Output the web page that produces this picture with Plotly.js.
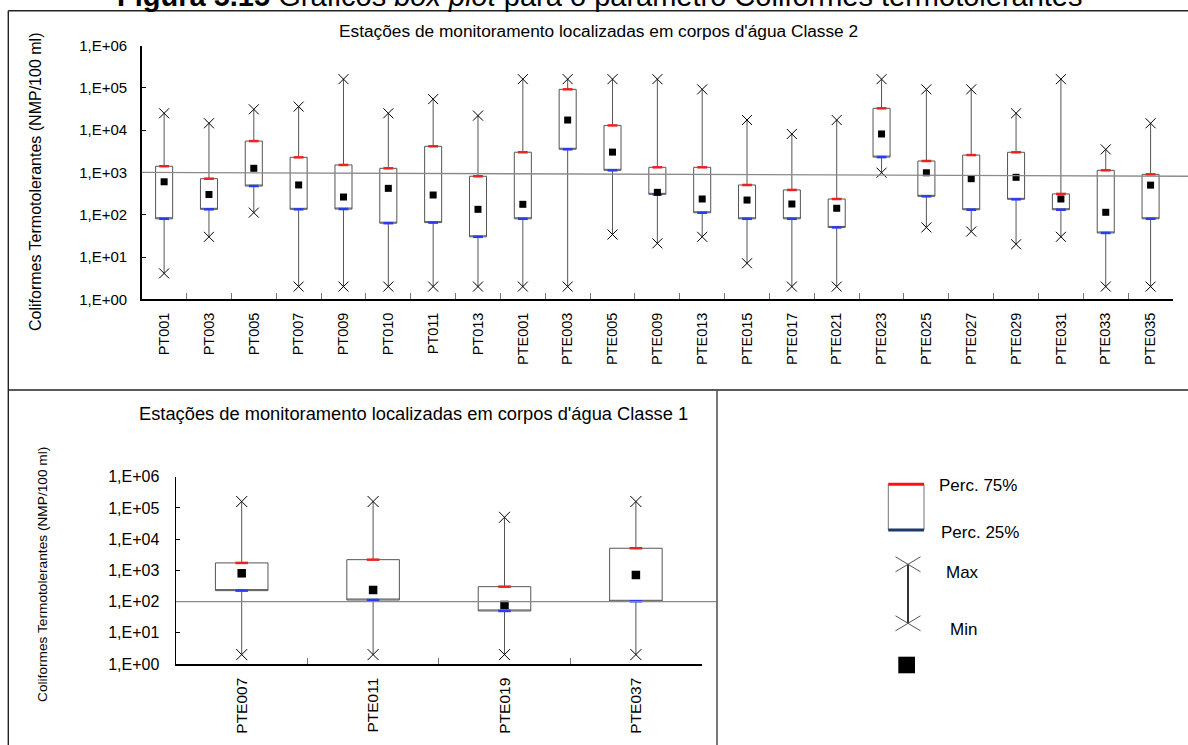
<!DOCTYPE html>
<html><head><meta charset="utf-8">
<script src="https://cdn.plot.ly/plotly-3.0.1.min.js"></script>
<style>html,body{margin:0;padding:0;background:#fff;} #chart{width:1188px;height:745px;}</style>
</head><body><div id="chart"></div>
<script>
// ---- Data: Classe 2 stations ----
const stationsC2 = ['PT001','PT003','PT005','PT007','PT009','PT010','PT011','PT013','PTE001','PTE003','PTE005','PTE009','PTE013','PTE015','PTE017','PTE021','PTE023','PTE025','PTE027','PTE029','PTE031','PTE033','PTE035'];
const maxC2  = [25000,14500,31000,36000,160000,25000,54000,22000,160000,160000,160000,160000,92000,17300,8100,17300,160000,92000,92000,25000,160000,3500,14500];
const p75C2  = [1400,710,5500,2270,1500,1250,4140,810,3000,92000,12900,1320,1320,504,385,235,32700,1860,2570,2990,310,1120,900];
const meanC2 = [600,300,1250,505,262,420,292,134,176,17300,3020,338,235,222,179,142,8100,980,710,765,235,114,500];
const p25C2  = [80,134,476,134,136,63,65,30,80,3520,1120,303,111,80,80,50,2300,272,131,231,131,37,80];
const minC2  = [4.1,30,112,2,2,2,2,2,2,2,34,21,30,7.1,2,2,985,50,40,20,30,2,2];

// ---- Data: Classe 1 stations ----
const stationsC1 = ['PTE007','PTE011','PTE019','PTE037'];
const maxC1  = [160000,160000,50000,160000];
const p75C1  = [1730,2200,300,5100];
const meanC1 = [805,235,78,710];
const p25C1  = [224,112,50,102];
const minC1  = [2,2,2,2];

// reference limit lines
const limitC2Start = 1000, limitC2End = 810;
const limitC1 = 100;

const yTickVals = [1,10,100,1000,10000,100000,1000000];
const yTickText = ['1,E+00','1,E+01','1,E+02','1,E+03','1,E+04','1,E+05','1,E+06'];

const titleMain = '<b>Figura 5.15</b> Gráficos <i>box plot</i> para o parâmetro Coliformes termotolerantes';
const subTitleC2 = "Estações de monitoramento localizadas em corpos d'água Classe 2";
const subTitleC1 = "Estações de monitoramento localizadas em corpos d'água Classe 1";
const yTitle = 'Coliformes Termotolerantes (NMP/100 ml)';
const legendLabels = ['Perc. 75%','Perc. 25%','Max','Min'];

// ---- helpers ----
const W = 1188, H = 745;
const FONT = 'Liberation Sans, Arial, sans-serif';
const px = x => x / W;
const py = y => 1 - y / H;

function makeTraces(cats, mx, p75, mean, p25, mn, xa, ya, o) {
  return [
    {type:'box', x:cats, q1:p25, median:p25, q3:p75, lowerfence:mn, upperfence:mx,
     xaxis:xa, yaxis:ya, width:o.boxW, whiskerwidth:0, fillcolor:'rgba(255,255,255,0)',
     line:{color:'#555', width:1}, boxpoints:false, showlegend:false, hoverinfo:'skip'},
    {type:'scatter', mode:'markers', x:cats, y:p75, xaxis:xa, yaxis:ya, cliponaxis:false,
     marker:{symbol:'line-ew', size:o.dash, color:'#f02020', line:{color:'#f02020', width:2.5}}, showlegend:false},
    {type:'scatter', mode:'markers', x:cats, y:p25, xaxis:xa, yaxis:ya, cliponaxis:false,
     marker:{symbol:'line-ew', size:o.dash, color:'#2a3cf0', line:{color:'#2a3cf0', width:2.5}}, showlegend:false},
    {type:'scatter', mode:'markers', x:cats, y:mean, xaxis:xa, yaxis:ya, cliponaxis:false,
     marker:{symbol:'square', size:o.sq, color:'#000'}, showlegend:false},
    {type:'scatter', mode:'markers', x:cats, y:mx, xaxis:xa, yaxis:ya, cliponaxis:false,
     marker:{symbol:'x-thin', size:o.xs, color:'#000', line:{color:'#000', width:1}}, showlegend:false},
    {type:'scatter', mode:'markers', x:cats, y:mn, xaxis:xa, yaxis:ya, cliponaxis:false,
     marker:{symbol:'x-thin', size:o.xs, color:'#000', line:{color:'#000', width:1}}, showlegend:false}
  ];
}

const data = [].concat(
  makeTraces(stationsC2, maxC2, p75C2, meanC2, p25C2, minC2, 'x', 'y', {boxW:0.38, dash:7, sq:7, xs:10}),
  makeTraces(stationsC1, maxC1, p75C1, meanC1, p25C1, minC1, 'x2', 'y2', {boxW:0.40, dash:9, sq:8.5, xs:11})
);

function xAxis(dom, cats, fs, anchor, standoff) {
  return {domain:dom, anchor:anchor, type:'category', categoryorder:'array', categoryarray:cats,
    range:[-0.5, cats.length - 0.5], tickson:'boundaries', ticks:'inside', ticklen:6, tickcolor:'#777',
    tickwidth:1, showline:true, linecolor:'#000', linewidth:1.5, showgrid:false, zeroline:false,
    tickangle:-90, ticklabelstandoff:standoff, tickfont:{family:FONT, size:fs, color:'#000'}, fixedrange:true};
}
function yAxis(dom, fs, anchor, standoff) {
  return {domain:dom, anchor:anchor, type:'log', range:[0,6], tickmode:'array', tickvals:yTickVals, ticktext:yTickText,
    ticks:'inside', ticklen:4, tickcolor:'#000', showline:true, linecolor:'#000', linewidth:1.5,
    showgrid:false, zeroline:false, ticklabelstandoff:standoff, tickfont:{family:FONT, size:fs, color:'#000'}, fixedrange:true};
}

const frame = {color:'#222', width:1.4};
const shapes = [
  // frames
  {type:'line', xref:'paper', yref:'paper', x0:px(8.3), x1:1, y0:py(10.7), y1:py(10.7), line:frame},
  {type:'line', xref:'paper', yref:'paper', x0:px(8.3), x1:px(8.3), y0:py(10.7), y1:0, line:frame},
  {type:'line', xref:'paper', yref:'paper', x0:px(8.3), x1:1, y0:py(390), y1:py(390), line:frame},
  {type:'line', xref:'paper', yref:'paper', x0:px(717), x1:px(717), y0:py(390), y1:0, line:{color:'#555', width:1.6}},
  // reference limit lines
  {type:'line', xref:'paper', yref:'y', x0:px(141.7), x1:1, y0:limitC2Start, y1:limitC2End, layer:'above', line:{color:'#8a8a8a', width:1.3}},
  {type:'line', xref:'paper', yref:'y2', x0:px(176), x1:px(716), y0:limitC1, y1:limitC1, layer:'above', line:{color:'#8a8a8a', width:1.3}},
  // legend glyphs
  {type:'rect', xref:'paper', yref:'paper', x0:px(888.3), x1:px(924), y0:py(530), y1:py(484.3), line:{color:'#777', width:1}},
  {type:'line', xref:'paper', yref:'paper', x0:px(888.3), x1:px(924), y0:py(484.3), y1:py(484.3), line:{color:'#ff1010', width:3}},
  {type:'line', xref:'paper', yref:'paper', x0:px(888.3), x1:px(924), y0:py(530), y1:py(530), line:{color:'#1f3a68', width:3}},
  {type:'line', xref:'paper', yref:'paper', x0:px(908), x1:px(908), y0:py(564.3), y1:py(623.3), line:{color:'#000', width:1.6}},
  {type:'line', xref:'paper', yref:'paper', x0:px(895.5), x1:px(920.5), y0:py(556.8), y1:py(571.8), line:{color:'#555', width:1}},
  {type:'line', xref:'paper', yref:'paper', x0:px(895.5), x1:px(920.5), y0:py(571.8), y1:py(556.8), line:{color:'#555', width:1}},
  {type:'line', xref:'paper', yref:'paper', x0:px(895.5), x1:px(920.5), y0:py(615.8), y1:py(630.8), line:{color:'#555', width:1}},
  {type:'line', xref:'paper', yref:'paper', x0:px(895.5), x1:px(920.5), y0:py(630.8), y1:py(615.8), line:{color:'#555', width:1}},
  {type:'rect', xref:'paper', yref:'paper', x0:px(898.3), x1:px(915), y0:py(673.3), y1:py(656.7), fillcolor:'#000', line:{width:0}}
];

const ann = (text, x, y, size, extra) => Object.assign({text:text, xref:'paper', yref:'paper', x:px(x), y:py(y),
  showarrow:false, xanchor:'center', yanchor:'middle', font:{family:FONT, size:size, color:'#000'}}, extra || {});

const annotations = [
  ann(titleMain, 599.5, -4.2, 29),
  ann(subTitleC2, 598.5, 30.7, 17.3),
  ann(subTitleC1, 413, 413.6, 18.3),
  ann(yTitle, 35.5, 182.5, 16, {textangle:-90}),
  ann(yTitle, 42, 575, 13.7, {textangle:-90}),
  ann(legendLabels[0], 936.7, 485.5, 17, {xanchor:'left'}),
  ann(legendLabels[1], 939, 532, 17, {xanchor:'left'}),
  ann(legendLabels[2], 944, 572, 17, {xanchor:'left'}),
  ann(legendLabels[3], 948.3, 629, 17, {xanchor:'left'})
];

const layout = {
  width:W, height:H, margin:{l:0, r:0, t:0, b:0}, paper_bgcolor:'#fff', plot_bgcolor:'rgba(0,0,0,0)',
  showlegend:false, font:{family:FONT, color:'#000'},
  xaxis: xAxis([px(141.7), px(1173)], stationsC2, 14.5, 'y', 6),
  yaxis: yAxis([py(299.3), py(45.5)], 15, 'x', 10),
  xaxis2: xAxis([px(176), px(701.6)], stationsC1, 15.5, 'y2', 6),
  yaxis2: yAxis([py(664), py(476.7)], 16, 'x2', 12),
  shapes: shapes, annotations: annotations
};

Plotly.newPlot('chart', data, layout, {staticPlot:true, displayModeBar:false});
</script>
</body></html>
